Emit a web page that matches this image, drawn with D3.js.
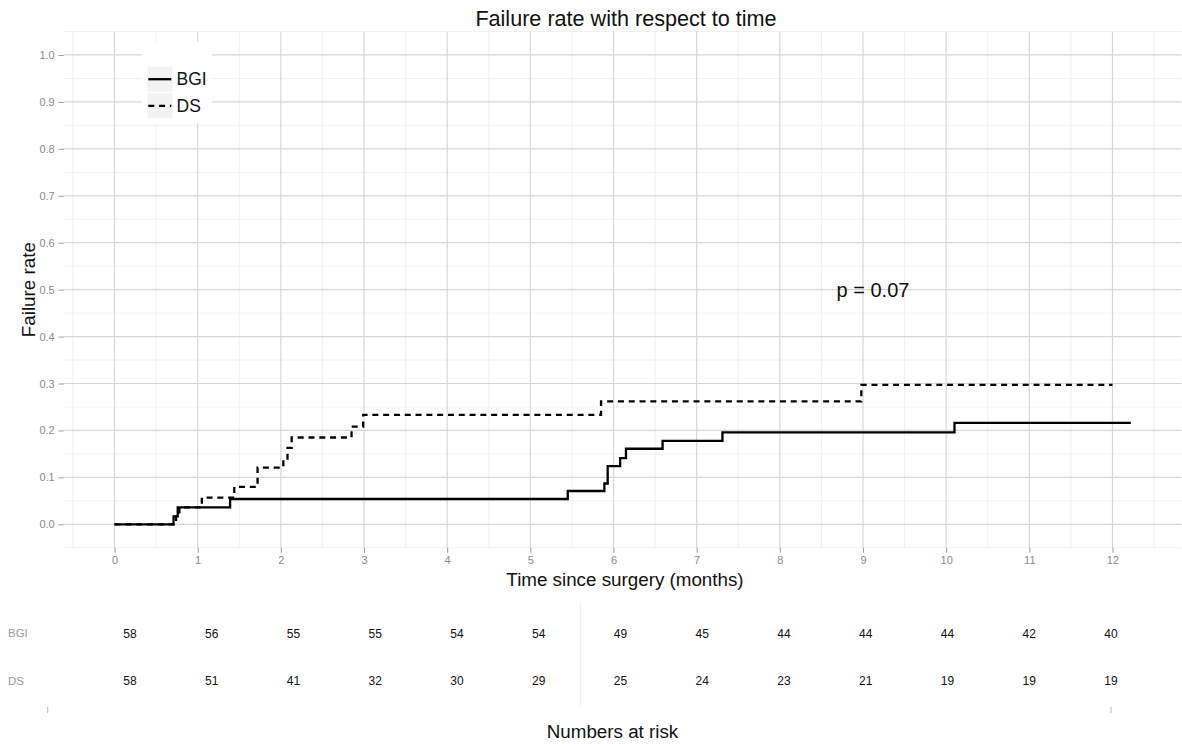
<!DOCTYPE html>
<html>
<head>
<meta charset="utf-8">
<script src="https://cdn.jsdelivr.net/npm/d3@7"></script>
<style>
  body { margin: 0; background: #fff; }
  svg { font-family: "Liberation Sans", Arial, sans-serif; }
</style>
</head>
<body>
<svg id="chart"></svg>
<script>
// step points of the cumulative failure curves
const bgiTime = [0, 0.71, 0.76, 1.39, 5.45, 5.89, 5.93, 6.08, 6.15, 6.59, 7.31, 10.10, 12.22];
const bgiRate = [0, 0.017, 0.036, 0.054, 0.071, 0.087, 0.124, 0.141, 0.161, 0.178, 0.196, 0.216, 0.216];
const dsTime = [0, 0.74, 0.78, 1.05, 1.44, 1.72, 2.03, 2.08, 2.13, 2.85, 2.99, 5.85, 8.98, 12.0];
const dsRate = [0, 0.017, 0.036, 0.057, 0.080, 0.121, 0.140, 0.163, 0.185, 0.208, 0.233, 0.262, 0.297, 0.297];

const groups = ["BGI", "DS"];
const riskMonths = [0, 1, 2, 3, 4, 5, 6, 7, 8, 9, 10, 11, 12];
const bgiRisk = [58, 56, 55, 55, 54, 54, 49, 45, 44, 44, 44, 42, 40];
const dsRisk = [58, 51, 41, 32, 30, 29, 25, 24, 23, 21, 19, 19, 19];

const xTicks = d3.range(0, 13);
const yTicks = d3.range(0, 11).map(d => d / 10);
const pLabel = "p = 0.07";

const W = 1182, H = 744;
const svg = d3.select("#chart").attr("width", W).attr("height", H);

const x = d3.scaleLinear().domain([-0.611, 12.831]).range([63.7, 1181.6]);
const y = d3.scaleLinear().domain([-0.05, 1.05]).range([547.8, 31.5]);

// grid, minor first
const minorX = d3.range(-0.5, 13, 1);
const minorY = d3.range(-0.05, 1.1, 0.1);
const grid = svg.append("g");
grid.selectAll(".mx").data(minorX).enter().append("line")
    .attr("x1", d => x(d)).attr("x2", d => x(d))
    .attr("y1", y.range()[0]).attr("y2", y.range()[1])
    .attr("stroke", "#f0f0f0").attr("stroke-width", 1);
grid.selectAll(".my").data(minorY).enter().append("line")
    .attr("x1", x.range()[0]).attr("x2", x.range()[1])
    .attr("y1", d => y(d)).attr("y2", d => y(d))
    .attr("stroke", "#f0f0f0").attr("stroke-width", 1);
grid.selectAll(".gx").data(xTicks).enter().append("line")
    .attr("x1", d => x(d)).attr("x2", d => x(d))
    .attr("y1", y.range()[0]).attr("y2", y.range()[1])
    .attr("stroke", "#d6d6d6").attr("stroke-width", 1.2);
grid.selectAll(".gy").data(yTicks).enter().append("line")
    .attr("x1", x.range()[0]).attr("x2", x.range()[1])
    .attr("y1", d => y(d)).attr("y2", d => y(d))
    .attr("stroke", "#d6d6d6").attr("stroke-width", 1.2);

// axes
const xAxis = svg.append("g").attr("transform", `translate(0,${y.range()[0]})`)
    .call(d3.axisBottom(x).tickValues(xTicks).tickSize(5).tickPadding(3).tickFormat(d3.format("d")));
const yAxis = svg.append("g").attr("transform", `translate(${x.range()[0]},0)`)
    .call(d3.axisLeft(y).tickValues(yTicks).tickSize(5).tickPadding(4).tickFormat(d3.format(".1f")));
[xAxis, yAxis].forEach(a => {
    a.select(".domain").remove();
    a.selectAll(".tick line").attr("stroke", "#999");
    a.selectAll(".tick text").attr("fill", "#8a8a8a").attr("font-size", 11)
        .attr("font-family", "Liberation Sans, Arial, sans-serif");
});

// curves
const line = d3.line().x(d => x(d[0])).y(d => y(d[1])).curve(d3.curveStepAfter);
const series = [
    { name: "BGI", pts: d3.zip(bgiTime, bgiRate), dash: null },
    { name: "DS", pts: d3.zip(dsTime, dsRate), dash: "6,4.8" }
];
svg.selectAll(".curve").data(series).enter().append("path")
    .attr("d", d => line(d.pts))
    .attr("fill", "none").attr("stroke", "#000").attr("stroke-width", 2.3)
    .attr("stroke-dasharray", d => d.dash);

// p value
svg.append("text").attr("x", x(9.12)).attr("y", y(0.5)).attr("dy", "0.35em")
    .attr("text-anchor", "middle").attr("font-size", 20).attr("fill", "#111")
    .text(pLabel);

// legend
const lg = svg.append("g");
lg.append("rect").attr("x", 141.7).attr("y", 41.7).attr("width", 70).attr("height", 81.6).attr("fill", "#fff");
series.forEach((s, i) => {
    const ky = 66.7 + i * 26.6;
    lg.append("rect").attr("x", 147.3).attr("y", ky).attr("width", 25.3).attr("height", 25)
        .attr("fill", "#f2f2f2");
    lg.append("line").attr("x1", 148.3).attr("x2", 171.3).attr("y1", ky + 12.5).attr("y2", ky + 12.5)
        .attr("stroke", "#000").attr("stroke-width", 2.3).attr("stroke-dasharray", s.dash);
    lg.append("text").attr("x", 176.5).attr("y", ky + 12.5).attr("dy", "0.35em")
        .attr("font-size", 17.5).attr("fill", "#111").text(s.name);
});

// titles
svg.append("text").attr("x", 626).attr("y", 26).attr("text-anchor", "middle")
    .attr("font-size", 21.6).attr("fill", "#111").text("Failure rate with respect to time");
svg.append("text").attr("x", 625).attr("y", 586).attr("text-anchor", "middle")
    .attr("font-size", 18.8).attr("fill", "#111").text("Time since surgery (months)");
svg.append("text").attr("transform", `translate(35,${(y.range()[0] + y.range()[1]) / 2}) rotate(-90)`)
    .attr("text-anchor", "middle").attr("font-size", 18.8).attr("fill", "#111").text("Failure rate");

// numbers at risk table
const rx = d3.scaleLinear().domain([0, 12]).range([130, 1111]);
const rowY = d3.scalePoint().domain(groups).range([633.3, 681]);
const risk = { BGI: bgiRisk, DS: dsRisk };

svg.append("line").attr("x1", 580.3).attr("x2", 580.3).attr("y1", 603).attr("y2", 707)
    .attr("stroke", "#ececec").attr("stroke-width", 1);
groups.forEach(g => {
    svg.append("text").attr("x", 8).attr("y", rowY(g)).attr("dy", "0.35em")
        .attr("font-size", 11.5).attr("fill", "#999").text(g);
    svg.selectAll(".r" + g).data(riskMonths).enter().append("text")
        .attr("x", d => rx(d)).attr("y", rowY(g)).attr("dy", "0.35em")
        .attr("text-anchor", "middle").attr("font-size", 12).attr("fill", "#111")
        .text((d, i) => risk[g][i]);
});
[47.7, 1111].forEach(tx => {
    svg.append("line").attr("x1", tx).attr("x2", tx).attr("y1", 707).attr("y2", 713)
        .attr("stroke", "#bbb").attr("stroke-width", 1);
});
svg.append("text").attr("x", 612.5).attr("y", 738).attr("text-anchor", "middle")
    .attr("font-size", 18.8).attr("fill", "#111").text("Numbers at risk");
</script>
</body>
</html>
